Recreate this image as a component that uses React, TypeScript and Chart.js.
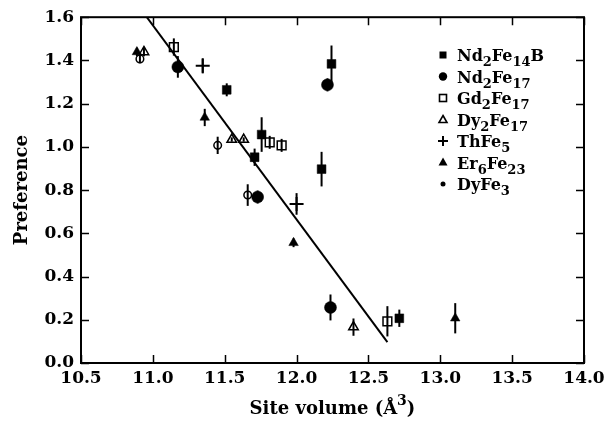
import React, { useEffect, useRef } from 'react';
import { Chart, registerables } from 'chart.js';

Chart.register(...registerables);

// ---- data ----
const xTickValues = [10.5, 11.0, 11.5, 12.0, 12.5, 13.0, 13.5, 14.0];
const yTickValues = [0.0, 0.2, 0.4, 0.6, 0.8, 1.0, 1.2, 1.4, 1.6];

const nd2fe14bX = [12.243, 11.514, 11.757, 11.708, 12.174, 12.715];
const nd2fe14bY = [1.384, 1.264, 1.057, 0.952, 0.897, 0.207];
const nd2fe14bErr = [0.085, 0.03, 0.08, 0.04, 0.08, 0.04];

const nd2fe17X = [11.174, 12.215, 11.729, 12.236];
const nd2fe17Y = [1.37, 1.287, 0.768, 0.257];
const nd2fe17Err = [0.05, 0.03, 0.03, 0.06];

const gd2fe17X = [11.146, 11.813, 11.896, 12.632];
const gd2fe17Y = [1.462, 1.021, 1.007, 0.193];
const gd2fe17Err = [0.04, 0.03, 0.03, 0.07];

const dy2fe17X = [10.938, 11.549, 11.632, 12.396];
const dy2fe17Y = [1.439, 1.034, 1.034, 0.166];
const dy2fe17Err = [0.02, 0.01, 0.01, 0.04];

const thfe5X = [11.347, 12.0];
const thfe5Y = [1.375, 0.736];
const thfe5Err = [0.035, 0.05];

const er6fe23X = [10.889, 11.361, 11.979, 13.104];
const er6fe23Y = [1.439, 1.136, 0.556, 0.207];
const er6fe23Err = [0.02, 0.04, 0.02, 0.07];

const dyfe3X = [10.91, 11.451, 11.66];
const dyfe3Y = [1.407, 1.007, 0.777];
const dyfe3Err = [0.02, 0.04, 0.05];

const fitLineX = [10.958, 12.632];
const fitLineY = [1.6, 0.097];

const legendLabels = ['Nd2Fe14B', 'Nd2Fe17', 'Gd2Fe17', 'Dy2Fe17', 'ThFe5', 'Er6Fe23', 'DyFe3'];

const FONT = '"DejaVu Serif", "Liberation Serif", serif';

type Series = {
  label: string;
  xs: number[];
  ys: number[];
  errs: number[];
  style: string;
  radius: number;
  fill: boolean;
  legendKind: string;
};

const series: Series[] = [
  { label: legendLabels[0], xs: nd2fe14bX, ys: nd2fe14bY, errs: nd2fe14bErr, style: 'rect', radius: 6.2, fill: true, legendKind: 'fsquare' },
  { label: legendLabels[1], xs: nd2fe17X, ys: nd2fe17Y, errs: nd2fe17Err, style: 'circle', radius: 6, fill: true, legendKind: 'fcircle' },
  { label: legendLabels[2], xs: gd2fe17X, ys: gd2fe17Y, errs: gd2fe17Err, style: 'rect', radius: 6.2, fill: false, legendKind: 'osquare' },
  { label: legendLabels[3], xs: dy2fe17X, ys: dy2fe17Y, errs: dy2fe17Err, style: 'triangle', radius: 5.5, fill: false, legendKind: 'otri' },
  { label: legendLabels[4], xs: thfe5X, ys: thfe5Y, errs: thfe5Err, style: 'cross', radius: 7, fill: false, legendKind: 'plus' },
  { label: legendLabels[5], xs: er6fe23X, ys: er6fe23Y, errs: er6fe23Err, style: 'triangle', radius: 5.5, fill: true, legendKind: 'ftri' },
  { label: legendLabels[6], xs: dyfe3X, ys: dyfe3Y, errs: dyfe3Err, style: 'circle', radius: 3.8, fill: false, legendKind: 'dot' },
];

function splitFormula(s: string): { t: string; sub: boolean }[] {
  const parts: { t: string; sub: boolean }[] = [];
  const re = /(\d+|\D+)/g;
  let m;
  while ((m = re.exec(s)) !== null) {
    parts.push({ t: m[0], sub: /\d/.test(m[0]) });
  }
  return parts;
}

function drawLegendMarker(ctx: CanvasRenderingContext2D, kind: string, x: number, y: number) {
  ctx.save();
  ctx.fillStyle = '#000';
  ctx.strokeStyle = '#000';
  ctx.lineWidth = 1.6;
  switch (kind) {
    case 'fsquare':
      ctx.fillRect(x - 3.5, y - 3.5, 7, 7);
      break;
    case 'fcircle':
      ctx.beginPath();
      ctx.arc(x, y, 4.2, 0, Math.PI * 2);
      ctx.fill();
      break;
    case 'osquare':
      ctx.strokeRect(x - 3.5, y - 3.5, 7, 7);
      break;
    case 'otri':
      ctx.beginPath();
      ctx.moveTo(x, y - 4);
      ctx.lineTo(x + 4, y + 3);
      ctx.lineTo(x - 4, y + 3);
      ctx.closePath();
      ctx.stroke();
      break;
    case 'plus':
      ctx.lineWidth = 2;
      ctx.beginPath();
      ctx.moveTo(x - 5, y);
      ctx.lineTo(x + 5, y);
      ctx.moveTo(x, y - 5);
      ctx.lineTo(x, y + 5);
      ctx.stroke();
      break;
    case 'ftri':
      ctx.beginPath();
      ctx.moveTo(x, y - 5);
      ctx.lineTo(x + 4.5, y + 3);
      ctx.lineTo(x - 4.5, y + 3);
      ctx.closePath();
      ctx.fill();
      break;
    case 'dot':
      ctx.beginPath();
      ctx.arc(x, y, 2.5, 0, Math.PI * 2);
      ctx.fill();
      break;
  }
  ctx.restore();
}

const decorPlugin = {
  id: 'decor',
  afterDatasetsDraw(chart: any) {
    const ctx: CanvasRenderingContext2D = chart.ctx;
    const xs = chart.scales.x;
    const ys = chart.scales.y;
    // error bars
    ctx.save();
    ctx.strokeStyle = '#000';
    ctx.lineWidth = 2;
    series.forEach((s) => {
      s.xs.forEach((xv, i) => {
        const px = xs.getPixelForValue(xv);
        const p1 = ys.getPixelForValue(s.ys[i] - s.errs[i]);
        const p2 = ys.getPixelForValue(s.ys[i] + s.errs[i]);
        ctx.beginPath();
        ctx.moveTo(px, p1);
        ctx.lineTo(px, p2);
        ctx.stroke();
      });
    });
    ctx.restore();
  },
  afterDraw(chart: any) {
    const ctx: CanvasRenderingContext2D = chart.ctx;
    const a = chart.chartArea;
    const xs = chart.scales.x;
    const ys = chart.scales.y;
    ctx.save();
    ctx.strokeStyle = '#000';
    ctx.lineWidth = 2;
    ctx.strokeRect(a.left, a.top, a.right - a.left, a.bottom - a.top);
    ctx.lineWidth = 1.5;
    const tl = 8;
    ctx.beginPath();
    xTickValues.forEach((v) => {
      const px = Math.round(xs.getPixelForValue(v)) + 0.5;
      ctx.moveTo(px, a.bottom);
      ctx.lineTo(px, a.bottom - tl);
      ctx.moveTo(px, a.top);
      ctx.lineTo(px, a.top + tl);
    });
    yTickValues.forEach((v) => {
      const py = Math.round(ys.getPixelForValue(v)) + 0.5;
      ctx.moveTo(a.left, py);
      ctx.lineTo(a.left + tl, py);
      ctx.moveTo(a.right, py);
      ctx.lineTo(a.right - tl, py);
    });
    ctx.stroke();

    // x axis title with superscript
    const main = 'bold 18px ' + FONT;
    const sup = 'bold 14px ' + FONT;
    const t1 = 'Site volume (Å';
    const t2 = '3';
    const t3 = ')';
    ctx.font = main;
    const w1 = ctx.measureText(t1).width;
    const w3 = ctx.measureText(t3).width;
    ctx.font = sup;
    const w2 = ctx.measureText(t2).width;
    const total = w1 + w2 + w3;
    let x0 = (a.left + a.right) / 2 - total / 2;
    const by = 414;
    ctx.fillStyle = '#000';
    ctx.textBaseline = 'alphabetic';
    ctx.textAlign = 'left';
    ctx.font = main;
    ctx.fillText(t1, x0, by);
    ctx.font = sup;
    ctx.fillText(t2, x0 + w1, by - 9);
    ctx.font = main;
    ctx.fillText(t3, x0 + w1 + w2, by);

    // legend
    const lx = 443;
    const tx = 457;
    const ly0 = 55;
    const dy = 21.5;
    series.forEach((s, i) => {
      const cy = ly0 + i * dy;
      drawLegendMarker(ctx, s.legendKind, lx, cy);
      let cx = tx;
      splitFormula(s.label).forEach((p) => {
        ctx.font = p.sub ? 'bold 13px ' + FONT : 'bold 16px ' + FONT;
        ctx.textBaseline = 'alphabetic';
        ctx.fillText(p.t, cx, p.sub ? cy + 11 : cy + 6);
        cx += ctx.measureText(p.t).width;
      });
    });
    ctx.restore();
  },
};

export default function App() {
  const ref = useRef<HTMLCanvasElement>(null);
  useEffect(() => {
    if (!ref.current) return;
    const datasets: any[] = series.map((s) => ({
      type: 'scatter',
      label: s.label,
      data: s.xs.map((x, i) => ({ x, y: s.ys[i] })),
      pointStyle: s.style,
      pointRadius: s.radius,
      pointHoverRadius: s.radius,
      backgroundColor: s.fill ? '#000' : 'rgba(0,0,0,0)',
      borderColor: '#000',
      borderWidth: s.style === 'cross' ? 2 : s.fill ? 0.5 : 1.5,
    }));
    datasets.push({
      type: 'scatter',
      label: 'fit',
      data: fitLineX.map((x, i) => ({ x, y: fitLineY[i] })),
      showLine: true,
      pointRadius: 0,
      borderColor: '#000',
      borderWidth: 2,
      backgroundColor: '#000',
    });
    const chart = new Chart(ref.current, {
      type: 'scatter',
      data: { datasets },
      options: {
        animation: false,
        responsive: false,
        layout: { padding: { top: 15, right: 32, left: 0, bottom: 0 } },
        plugins: { legend: { display: false }, tooltip: { enabled: false } },
        scales: {
          x: {
            type: 'linear',
            min: 10.5,
            max: 14.0,
            afterBuildTicks: (s: any) => {
              s.ticks = xTickValues.map((v) => ({ value: v }));
            },
            afterFit: (s: any) => {
              s.height = 62;
            },
            ticks: {
              color: '#000',
              font: { family: FONT, size: 17, weight: 'bold' },
              padding: 5,
              maxRotation: 0,
              autoSkip: false,
              callback: (v: any) => Number(v).toFixed(1),
            },
            grid: { display: false, drawTicks: false },
            border: { display: false },
          },
          y: {
            type: 'linear',
            min: 0,
            max: 1.6,
            afterBuildTicks: (s: any) => {
              s.ticks = yTickValues.map((v) => ({ value: v }));
            },
            afterFit: (s: any) => {
              s.width = 81;
            },
            ticks: {
              color: '#000',
              font: { family: FONT, size: 17, weight: 'bold' },
              padding: 7,
              autoSkip: false,
              callback: (v: any) => Number(v).toFixed(1),
            },
            grid: { display: false, drawTicks: false },
            border: { display: false },
            title: {
              display: true,
              text: 'Preference',
              color: '#000',
              font: { family: FONT, size: 18, weight: 'bold' },
              padding: { top: 12, bottom: 0 },
            },
          },
        },
      } as any,
      plugins: [decorPlugin],
    });
    return () => chart.destroy();
  }, []);
  return (
    <div style={{ position: 'fixed', left: 0, top: 0, width: 616, height: 425, background: '#fff' }}>
      <canvas ref={ref} width={616} height={425} style={{ display: 'block' }} />
    </div>
  );
}
